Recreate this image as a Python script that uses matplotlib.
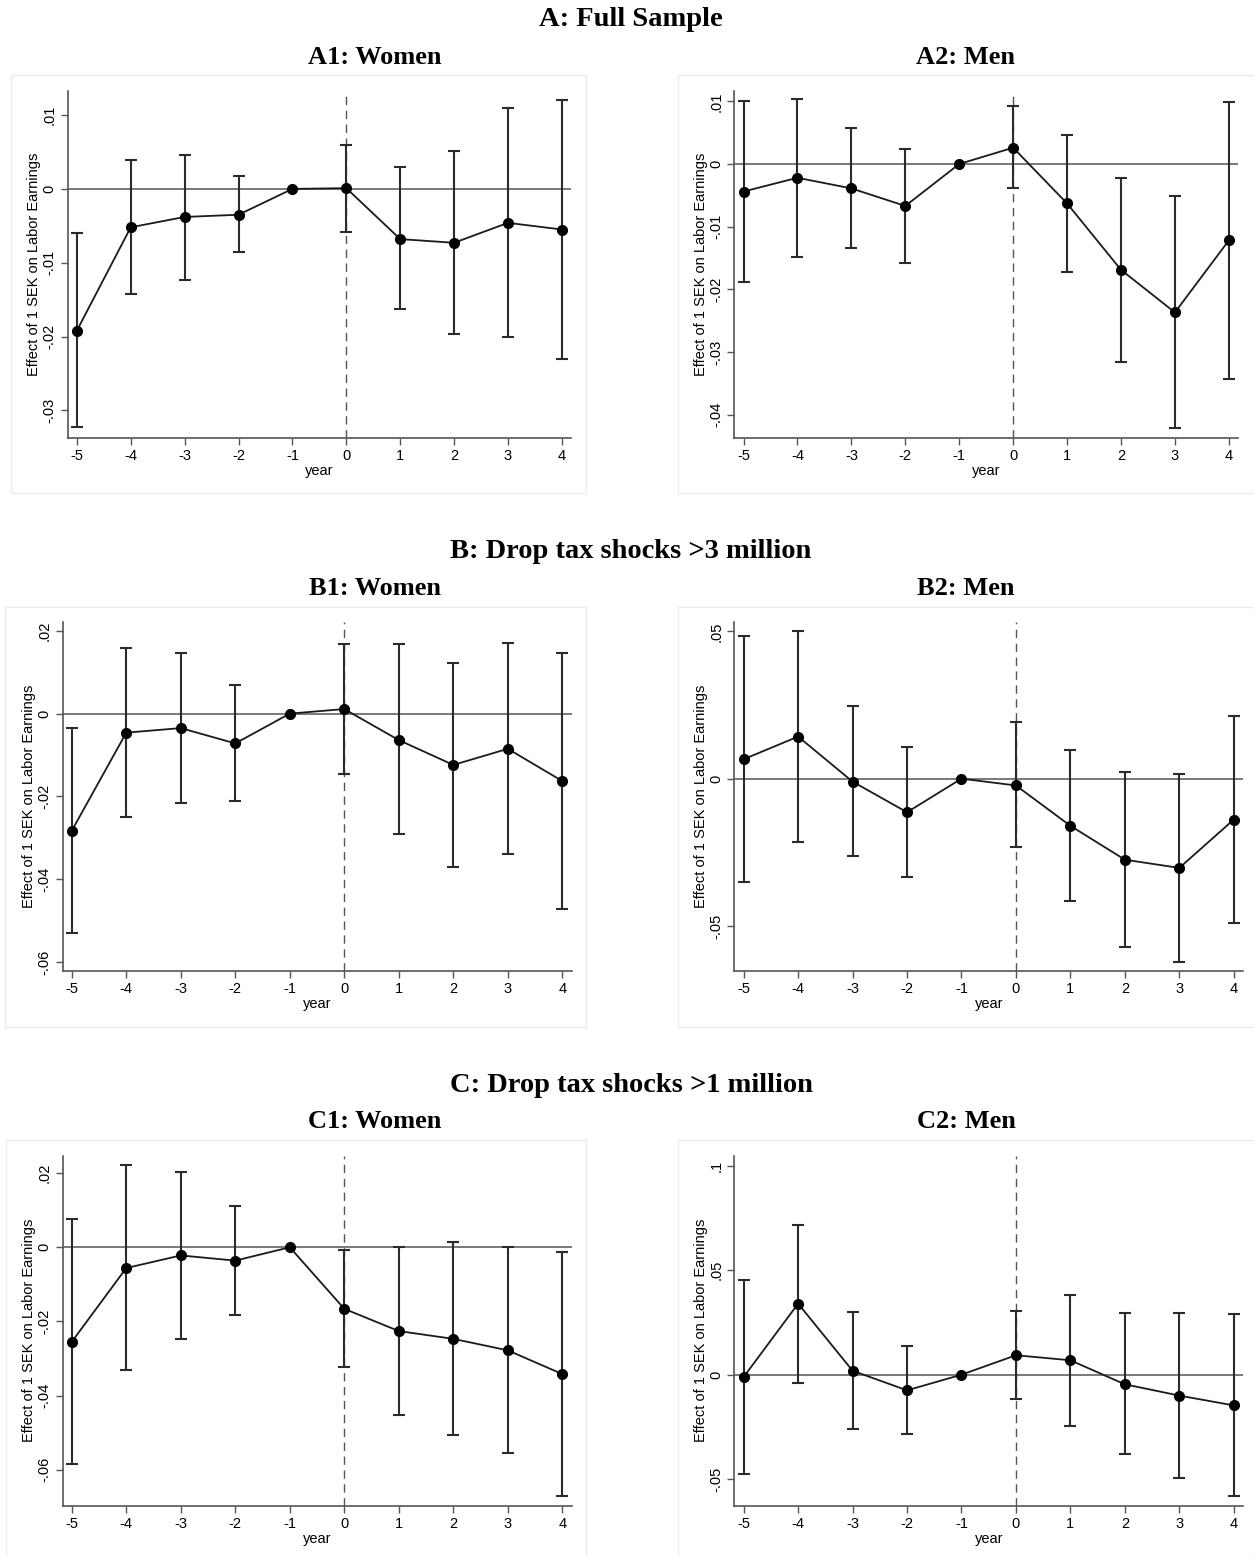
import numpy as np
import matplotlib
matplotlib.use("Agg")
import matplotlib.pyplot as plt
from matplotlib.patches import Rectangle

W, H = 1254, 1556

years = [-5, -4, -3, -2, -1, 0, 1, 2, 3, 4]
nan = np.nan

# A: full sample
a1_coef = [-0.0192, -0.0052, -0.0038, -0.0035, 0.0, 0.0001, -0.0068, -0.0073, -0.0046, -0.0055]
a1_lo = [-0.0323, -0.0143, -0.0123, -0.0086, nan, -0.0058, -0.0163, -0.0196, -0.0201, -0.0230]
a1_hi = [-0.0060, 0.0039, 0.0046, 0.0017, nan, 0.0059, 0.0029, 0.0051, 0.0110, 0.0120]

a2_coef = [-0.0044, -0.0022, -0.0039, -0.0067, 0.0, 0.0026, -0.0063, -0.0169, -0.0237, -0.0122]
a2_lo = [-0.0189, -0.0148, -0.0134, -0.0158, nan, -0.0038, -0.0173, -0.0316, -0.0421, -0.0344]
a2_hi = [0.0100, 0.0103, 0.0057, 0.0024, nan, 0.0093, 0.0047, -0.0022, -0.0051, 0.0099]

# B: drop tax shocks > 3 million
b1_coef = [-0.0283, -0.0046, -0.0035, -0.0072, 0.0, 0.0011, -0.0064, -0.0124, -0.0085, -0.0163]
b1_lo = [-0.0529, -0.0250, -0.0216, -0.0211, nan, -0.0146, -0.0292, -0.0370, -0.0340, -0.0472]
b1_hi = [-0.0035, 0.0159, 0.0146, 0.0068, nan, 0.0168, 0.0168, 0.0122, 0.0171, 0.0147]

b2_coef = [0.0066, 0.0143, -0.0010, -0.0114, 0.0, -0.0023, -0.0160, -0.0275, -0.0303, -0.0139]
b2_lo = [-0.0350, -0.0216, -0.0262, -0.0335, nan, -0.0232, -0.0414, -0.0571, -0.0622, -0.0490]
b2_hi = [0.0485, 0.0503, 0.0247, 0.0107, nan, 0.0191, 0.0097, 0.0023, 0.0017, 0.0214]

# C: drop tax shocks > 1 million
c1_coef = [-0.0255, -0.0056, -0.0022, -0.0036, 0.0, -0.0166, -0.0226, -0.0247, -0.0278, -0.0342]
c1_lo = [-0.0584, -0.0330, -0.0247, -0.0182, nan, -0.0322, -0.0453, -0.0505, -0.0556, -0.0672]
c1_hi = [0.0076, 0.0221, 0.0204, 0.0111, nan, -0.0008, 0.0002, 0.0013, 0.0002, -0.0013]

c2_coef = [-0.0011, 0.0340, 0.0019, -0.0075, 0.0, 0.0093, 0.0069, -0.0046, -0.0100, -0.0147]
c2_lo = [-0.0474, -0.0038, -0.0262, -0.0282, nan, -0.0118, -0.0244, -0.0381, -0.0496, -0.0582]
c2_hi = [0.0451, 0.0718, 0.0298, 0.0136, nan, 0.0305, 0.0381, 0.0293, 0.0297, 0.0289]

a1_ticks = [-0.03, -0.02, -0.01, 0, 0.01]
a1_labels = ["-.03", "-.02", "-.01", "0", ".01"]
a2_ticks = [-0.04, -0.03, -0.02, -0.01, 0, 0.01]
a2_labels = ["-.04", "-.03", "-.02", "-.01", "0", ".01"]
b1_ticks = [-0.06, -0.04, -0.02, 0, 0.02]
b1_labels = ["-.06", "-.04", "-.02", "0", ".02"]
b2_ticks = [-0.05, 0, 0.05]
b2_labels = ["-.05", "0", ".05"]
c1_ticks = [-0.06, -0.04, -0.02, 0, 0.02]
c1_labels = ["-.06", "-.04", "-.02", "0", ".02"]
c2_ticks = [-0.05, 0, 0.05, 0.1]
c2_labels = ["-.05", "0", ".05", ".1"]

section_titles = ["A: Full Sample", "B: Drop tax shocks >3 million", "C: Drop tax shocks >1 million"]
panel_titles = ["A1: Women", "A2: Men", "B1: Women", "B2: Men", "C1: Women", "C2: Men"]

fig = plt.figure(figsize=(W / 100, H / 100), dpi=100)
serif = ["Liberation Serif", "DejaVu Serif"]
sans = ["Liberation Sans", "DejaVu Sans"]


def fx(x):
    return x / W


def fy(y):
    return 1 - y / H


# panel layout in pixels: frame box, axes box (left, top, right, bottom), y limits
panels = [
    (a1_coef, a1_lo, a1_hi, a1_ticks, a1_labels, (11, 75, 586, 493), (67.7, 90.7, 571, 437.7), (-0.0337, 0.0133)),
    (a2_coef, a2_lo, a2_hi, a2_ticks, a2_labels, (678, 75, 1254, 493), (734.4, 90.7, 1238, 437.7), (-0.0437, 0.0117)),
    (b1_coef, b1_lo, b1_hi, b1_ticks, b1_labels, (5, 607, 586, 1027), (62.5, 621.7, 571.6, 970.7), (-0.0621, 0.0222)),
    (b2_coef, b2_lo, b2_hi, b2_ticks, b2_labels, (678, 607, 1254, 1027), (734.4, 621.7, 1243, 970.7), (-0.0652, 0.0533)),
    (c1_coef, c1_lo, c1_hi, c1_ticks, c1_labels, (6, 1140, 586, 1556), (62.5, 1155.7, 571.6, 1505.7), (-0.0697, 0.0247)),
    (c2_coef, c2_lo, c2_hi, c2_ticks, c2_labels, (678, 1140, 1254, 1556), (734.4, 1155.7, 1243, 1505.7), (-0.0627, 0.1048)),
]
title_x = [375, 966, 375, 966, 375, 966]
title_y = [57, 57, 588, 588, 1122, 1122]

for i, (coef, lo, hi, ticks, labels, frame, box, ylim) in enumerate(panels):
    fl, ft, fr, fb = frame
    fig.patches.append(Rectangle((fx(fl), fy(fb)), fx(fr - fl), (fb - ft) / H,
                                 transform=fig.transFigure, fill=False,
                                 edgecolor="#ececec", linewidth=1.0, zorder=0))
    l, t, r, b = box
    ax = fig.add_axes([fx(l), fy(b), fx(r - l), (b - t) / H])
    ax.set_facecolor("none")

    coef = np.array(coef)
    lo = np.array(lo)
    hi = np.array(hi)
    ax.axhline(0, color="#6e6e6e", linewidth=1.3, zorder=1)
    ax.axvline(0, color="#555555", linewidth=1.0, linestyle=(0, (6, 4)), zorder=1)
    ax.errorbar(years, coef, yerr=[coef - lo, hi - coef], fmt="none",
                ecolor="#2b2b2b", elinewidth=1.5, capsize=4, capthick=1.5, zorder=2)
    ax.plot(years, coef, color="#1a1a1a", linewidth=1.3, marker="o",
            markersize=7, markerfacecolor="black", markeredgecolor="black", zorder=3)

    ax.set_xlim(-5.17, 4.17)
    ax.set_ylim(*ylim)
    ax.set_xticks(years)
    ax.set_xticklabels([str(y) for y in years], family=sans, fontsize=10.5)
    ax.set_yticks(ticks)
    ax.set_yticklabels(labels, family=sans, fontsize=10.5, rotation=90, va="center")
    for s in ["top", "right"]:
        ax.spines[s].set_visible(False)
    for s in ["left", "bottom"]:
        ax.spines[s].set_color("#555555")
        ax.spines[s].set_linewidth(1.2)
    ax.tick_params(direction="out", length=5, width=1, color="#555555", pad=3)
    ax.set_xlabel("year", family=sans, fontsize=10.5, labelpad=1)
    ax.set_ylabel("Effect of 1 SEK on Labor Earnings", family=sans, fontsize=10.5, labelpad=1)

    fig.text(fx(title_x[i]), fy(title_y[i]), panel_titles[i], family=serif, fontweight="bold",
             fontsize=19, ha="center", va="center")

for k, ty in enumerate([19, 551, 1085]):
    fig.text(fx(631), fy(ty), section_titles[k], family=serif, fontweight="bold",
             fontsize=20.5, ha="center", va="center")

fig.savefig("out.png", dpi=100)
